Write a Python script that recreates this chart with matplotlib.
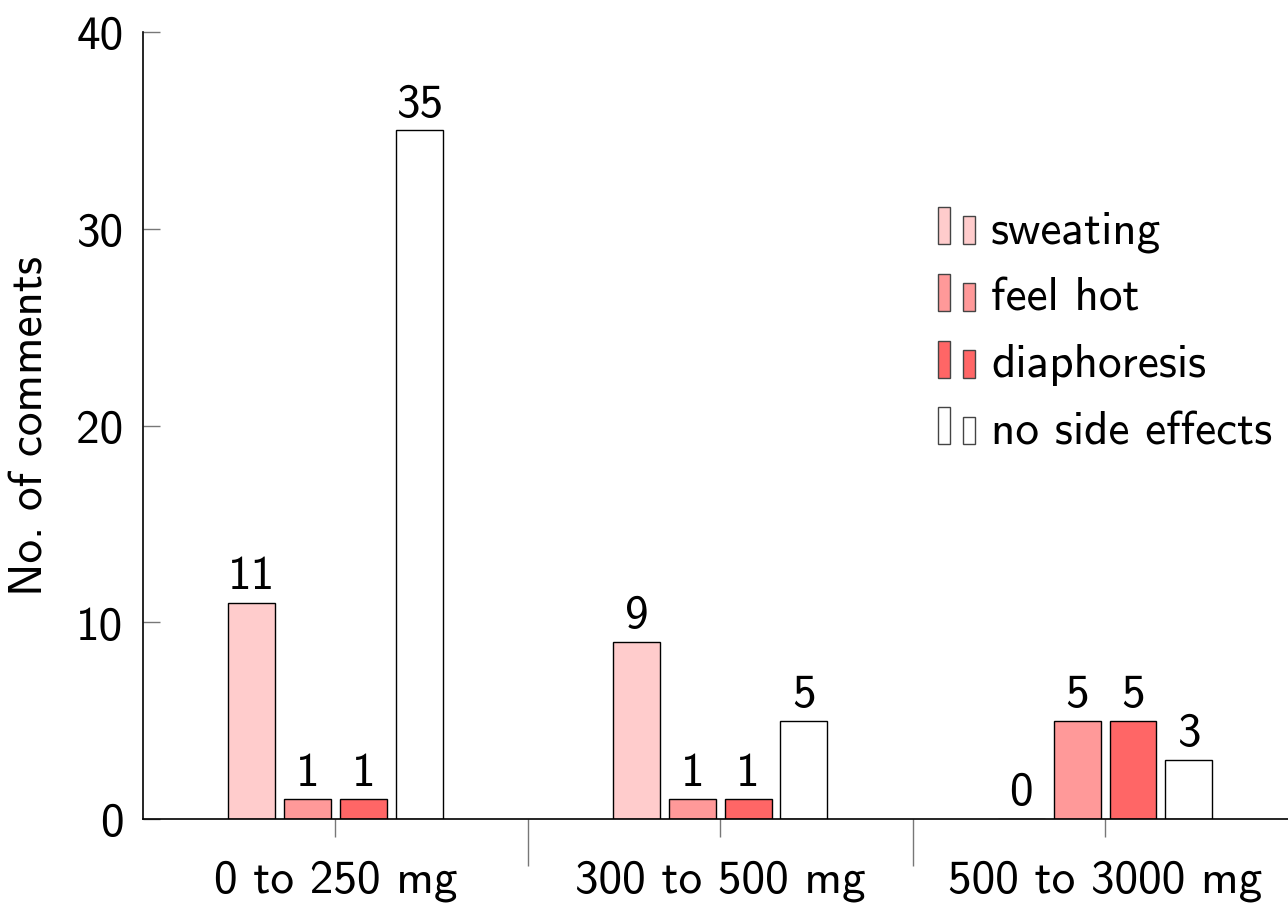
import matplotlib
matplotlib.use("Agg")
import matplotlib.pyplot as plt
import numpy as np
from matplotlib.legend_handler import HandlerBase
from matplotlib.patches import Rectangle

plt.rcParams['font.family'] = ['cmss10', 'DejaVu Sans']
plt.rcParams['axes.formatter.use_mathtext'] = True

doses = ['0 to 250 mg', '300 to 500 mg', '500 to 3000 mg']
series = ['sweating', 'feel hot', 'diaphoresis', 'no side effects']
sweating = [11, 9, 0]
feel_hot = [1, 1, 5]
diaphoresis = [1, 1, 5]
no_side_effects = [35, 5, 3]
colors = ['#ffcccc', '#ff9999', '#ff6666', '#ffffff']

FS = 34


class TwoBars(HandlerBase):
    # pgfplots style ybar legend image: two small bars
    def create_artists(self, legend, orig_handle, xdescent, ydescent,
                       width, height, fontsize, trans):
        fc = orig_handle.get_facecolor()
        w = 8.6
        r1 = Rectangle((-xdescent, -ydescent), w, 26.6, facecolor=fc,
                       edgecolor='#444444', lw=1.0, transform=trans)
        r2 = Rectangle((-xdescent + 18, -ydescent), w, 20, facecolor=fc,
                       edgecolor='#444444', lw=1.0, transform=trans)
        return [r1, r2]


fig = plt.figure(figsize=(12.88, 9.04), dpi=100)
ax = fig.add_axes([143 / 1288, 84 / 904, 1154.5 / 1288, 787 / 904])

x = np.arange(len(doses))
width = 0.122
step = 0.145
offsets = np.array([-1.5, -0.5, 0.5, 1.5]) * step
handles = []
for vals, off, c, name in zip([sweating, feel_hot, diaphoresis, no_side_effects],
                              offsets, colors, series):
    bars = ax.bar(x + off, vals, width, color=c, edgecolor='black',
                  linewidth=1.0, label=name)
    ax.bar_label(bars, padding=4, fontsize=FS)
    handles.append(bars.patches[0])

ax.set_xlim(-0.5, 2.5)
ax.set_ylim(0, 40)
ax.set_yticks([0, 10, 20, 30, 40], ['0', '10', '20', '30', '40'])
ax.set_xticks(x, doses)
ax.set_xticks([0.5, 1.5], minor=True)
ax.tick_params(axis='y', direction='in', length=12, width=1.0,
               color='#777777', labelsize=FS, pad=14)
ax.tick_params(axis='x', which='major', direction='out', length=13,
               width=1.0, color='#777777', labelsize=FS, pad=16)
ax.tick_params(axis='x', which='minor', direction='out', length=34,
               width=1.0, color='#777777')
ax.spines['top'].set_visible(False)
ax.spines['right'].set_visible(False)
ax.spines['left'].set_linewidth(1.2)
ax.spines['bottom'].set_linewidth(1.2)
ax.set_ylabel('No. of comments', fontsize=FS)
ax.yaxis.set_label_coords(-(143 - 52) / 1154.5, 0.5)

ax.legend(handles, series, handler_map={Rectangle: TwoBars()},
          loc='upper left', bbox_to_anchor=(938 / 1288, 1 - 209 / 904),
          bbox_transform=fig.transFigure, frameon=False, fontsize=FS,
          borderpad=0, borderaxespad=0, handlelength=0.8,
          handleheight=0.78, handletextpad=0.32, labelspacing=0.5)

fig.savefig('out.png', dpi=100)
